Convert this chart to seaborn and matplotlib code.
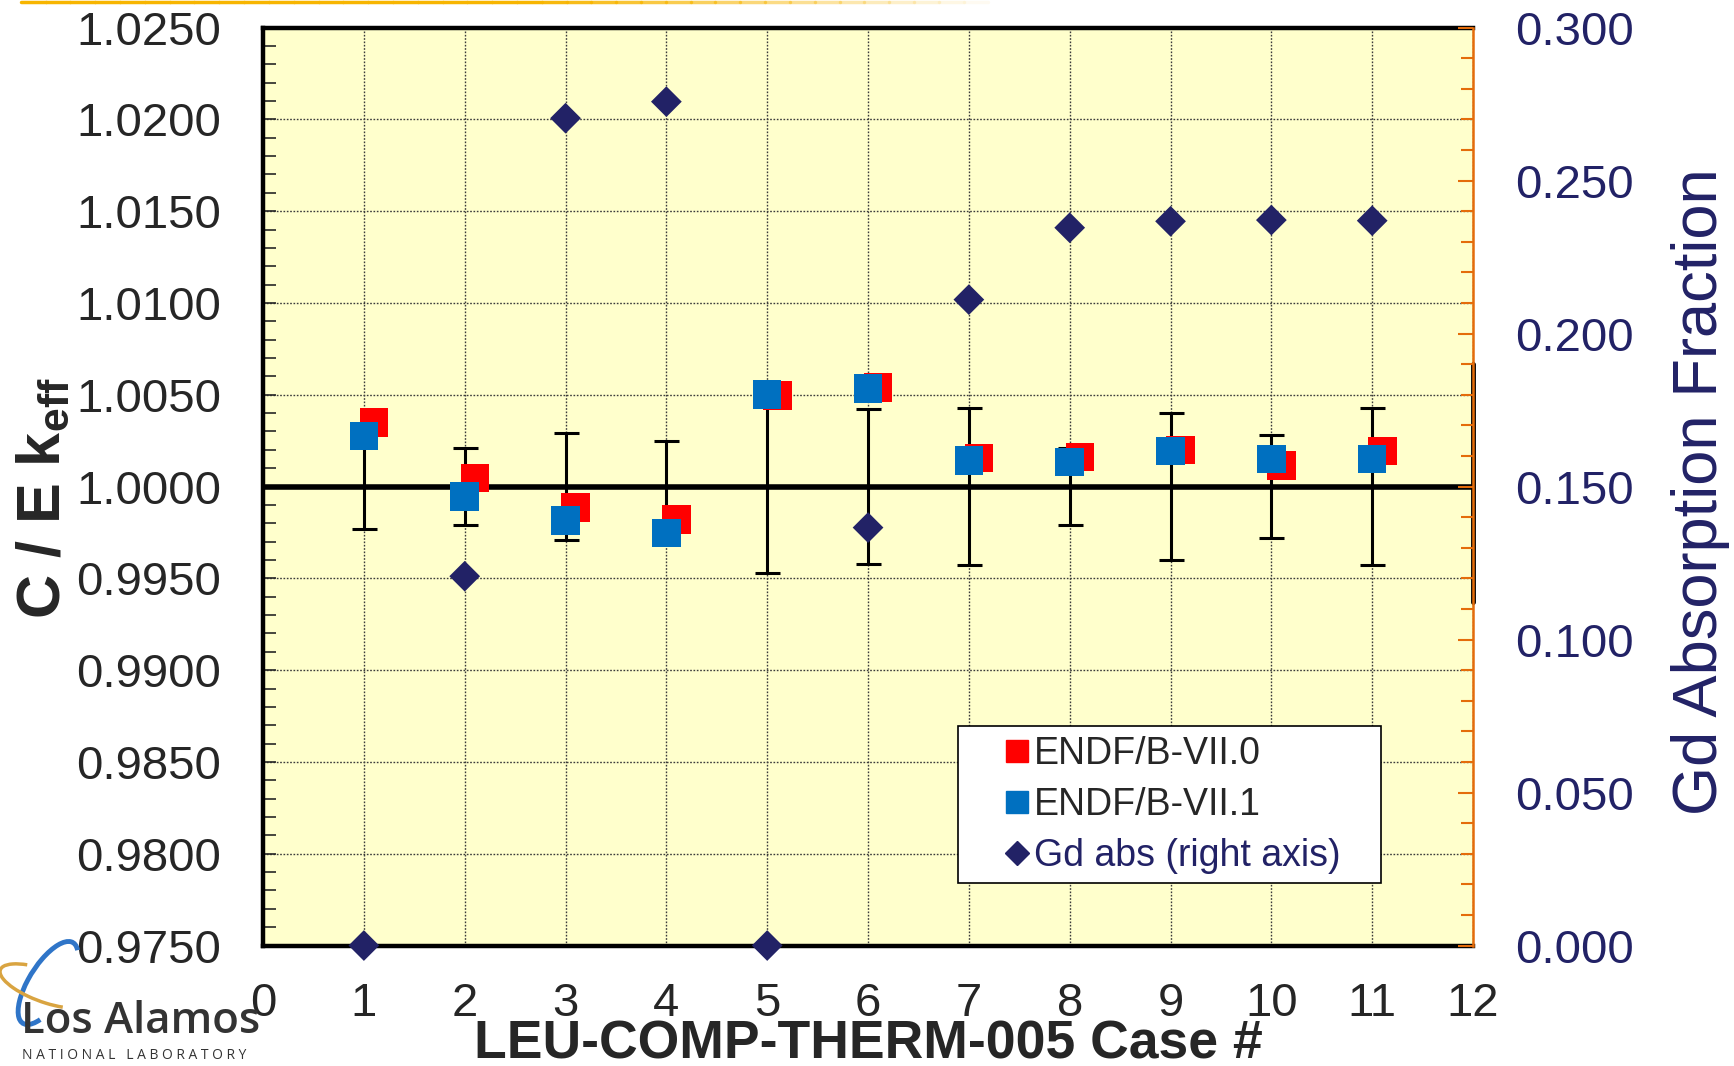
import numpy as np
import pandas as pd
import matplotlib
matplotlib.use("Agg")
import matplotlib.pyplot as plt
import seaborn as sns
from matplotlib.lines import Line2D
from matplotlib.patches import Arc
from matplotlib.ticker import MultipleLocator, FormatStrFormatter

# ---------------- data ----------------
cases = [1, 2, 3, 4, 5, 6, 7, 8, 9, 10, 11]
endf_b70 = [1.00348, 1.00047, 0.99887, 0.99821, 1.00497, 1.00540,
            1.00156, 1.00161, 1.00198, 1.00116, 1.00193]
endf_b71 = [1.00275, 0.99945, 0.99816, 0.99746, 1.00501, 1.00534,
            1.00142, 1.00135, 1.00195, 1.00149, 1.00149]
benchmark = [1.0, 1.0, 1.0, 1.0, 1.0, 1.0, 1.0, 1.0, 1.0, 1.0, 1.0]
exp_unc = [0.00231, 0.00209, 0.00290, 0.00249, 0.00471, 0.00420,
           0.00429, 0.00209, 0.00400, 0.00279, 0.00429]
gd_abs = [0.0, 0.1207, 0.2704, 0.2758, 0.0, 0.1366,
          0.2111, 0.2346, 0.2367, 0.2371, 0.2369]
x_ticks = [0, 1, 2, 3, 4, 5, 6, 7, 8, 9, 10, 11, 12]
labels = ["ENDF/B-VII.0", "ENDF/B-VII.1", "Gd abs (right axis)"]

RED = "#FF0000"
BLUE = "#0070C0"
NAVY = "#222266"
ORANGE = "#E46C0A"

sns.set_style("white")
plt.rcParams["font.family"] = ["Liberation Sans", "DejaVu Sans"]
plt.rcParams["mathtext.fontset"] = "custom"
plt.rcParams["mathtext.rm"] = "Liberation Sans"
plt.rcParams["mathtext.bf"] = "Liberation Sans:bold"

df = pd.DataFrame({"case": cases, "b70": endf_b70, "b71": endf_b71,
                   "bench": benchmark, "unc": exp_unc, "gd": gd_abs})
df["case_off"] = df["case"] + 0.1

fig = plt.figure(figsize=(17.34, 10.66), dpi=100)
ax = fig.add_axes([0.1517, 0.1130, 0.6978, 0.8611])
ax.set_facecolor("#FFFFCC")

ax.set_xlim(0, 12)
ax.set_ylim(0.975, 1.025)
ax.set_xticks(x_ticks)
ax.yaxis.set_major_locator(MultipleLocator(0.005))
ax.yaxis.set_minor_locator(MultipleLocator(0.001))
ax.yaxis.set_major_formatter(FormatStrFormatter("%.4f"))
ax.grid(True, which="major", linestyle=(0, (1.2, 1.2)), color="#3a3a3a", lw=1.0, zorder=0)
ax.set_axisbelow(True)

ax.tick_params(axis="x", which="both", length=0, labelsize=34, pad=26)
ax.tick_params(axis="y", which="both", direction="in", length=9, width=1.2,
               labelsize=34, pad=30, right=False)

ax.axhline(1.0, color="black", lw=4, zorder=2)

ax.errorbar(df["case"], df["bench"], yerr=df["unc"], fmt="none", ecolor="black",
            elinewidth=2.2, capsize=9, capthick=2.2, zorder=3)

sns.scatterplot(data=df, x="case_off", y="b70", ax=ax, marker="s", s=420,
                color=RED, edgecolor="none", linewidth=0, zorder=4, legend=False)
sns.scatterplot(data=df, x="case", y="b71", ax=ax, marker="s", s=420,
                color=BLUE, edgecolor="none", linewidth=0, zorder=5, legend=False)

for side in ["left", "top", "bottom"]:
    ax.spines[side].set_linewidth(3.2)
    ax.spines[side].set_color("black")
ax.spines["right"].set_visible(False)

ax.set_xlabel("LEU-COMP-THERM-005 Case #", fontsize=38.5, fontweight="bold")
ax.xaxis.set_label_coords(0.5, -0.108)
ax.xaxis.label.set_verticalalignment("center")
ax.set_ylabel(r"C / E k$_{\mathbf{eff}}$", fontsize=44, fontweight="bold")
ax.yaxis.set_label_coords(-0.181, 0.487)
ax.yaxis.label.set_verticalalignment("center")

# right axis
ax2 = ax.twinx()
ax2.set_ylim(0, 0.3)
ax2.yaxis.set_major_locator(MultipleLocator(0.05))
ax2.yaxis.set_minor_locator(MultipleLocator(0.01))
ax2.yaxis.set_major_formatter(FormatStrFormatter("%.3f"))
ax2.tick_params(axis="y", which="major", direction="in", length=11, width=1.5,
                color=ORANGE, labelsize=34, labelcolor=NAVY, pad=30)
ax2.tick_params(axis="y", which="minor", direction="in", length=9, width=1.5,
                color=ORANGE)
for side in ["left", "top", "bottom"]:
    ax2.spines[side].set_visible(False)
ax2.spines["right"].set_color(ORANGE)
ax2.spines["right"].set_linewidth(1.8)
ax2.grid(False)

sns.scatterplot(data=df, x="case", y="gd", ax=ax2, marker="D", s=245,
                color=NAVY, edgecolor="none", linewidth=0, zorder=6,
                clip_on=False, legend=False)
ax2.set_xlim(0, 12)
ax2.set_ylabel("Gd Absorption Fraction", fontsize=45.5, color=NAVY, rotation=90)
ax2.yaxis.set_label_coords(1.1876, 0.495)
ax2.yaxis.label.set_verticalalignment("center")

# black overlay segment on right frame
ax.axvline(12, ymin=0.3742, ymax=0.6336, color="black", lw=3.5, clip_on=False, zorder=7)

# legend
handles = [
    Line2D([], [], marker="s", color=RED, linestyle="none", markersize=16),
    Line2D([], [], marker="s", color=BLUE, linestyle="none", markersize=16),
    Line2D([], [], marker="D", color=NAVY, linestyle="none", markersize=12),
]
leg = ax2.legend(handles, labels, loc="lower left",
                 bbox_to_anchor=(0.574, 0.068, 0.350, 0.170), mode="expand",
                 fontsize=27, frameon=True, fancybox=False, edgecolor="black",
                 framealpha=1, borderpad=0.25, labelspacing=0.4,
                 handlelength=2.67, handletextpad=-0.875, borderaxespad=0)
leg.get_frame().set_linewidth(1.2)
leg.get_texts()[2].set_color(NAVY)
leg.set_zorder(10)

# slide decoration: orange line at top
xs = np.linspace(0.012, 0.57, 40)
for i in range(len(xs) - 1):
    a = 1.0 if xs[i] < 0.3 else max(0.0, 1 - (xs[i] - 0.3) / 0.27)
    fig.add_artist(Line2D([xs[i], xs[i + 1]], [0.9985, 0.9985], color="#F7B500",
                          lw=2.5, alpha=a, transform=fig.transFigure))

# logo (text + stylised orbits)
fig.text(0.012, 0.042, "Los Alamos", fontsize=31.5, color="#333333",
         family=["Open Sans", "DejaVu Sans"], fontweight="semibold",
         va="center", ha="left")
fig.text(0.0125, 0.0095, "N A T I O N A L   L A B O R A T O R Y", fontsize=10,
         color="#333333", family=["Open Sans", "DejaVu Sans"],
         va="center", ha="left")
fig.add_artist(Arc((0.48, 0.83), 0.95, 0.38, angle=58, theta1=-10, theta2=200,
                   color="#2F75C8", lw=3.5, transform=fig.dpi_scale_trans))
fig.add_artist(Arc((0.45, 0.80), 0.95, 0.32, angle=-20, theta1=150, theta2=330,
                   color="#D9A441", lw=2.5, transform=fig.dpi_scale_trans))

fig.savefig("out.png", dpi=100)
